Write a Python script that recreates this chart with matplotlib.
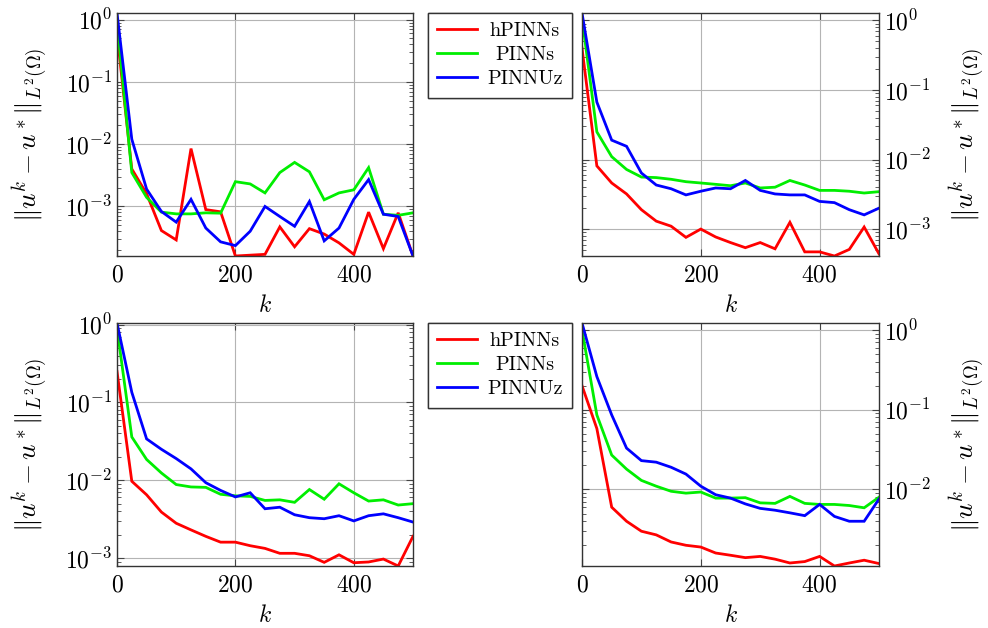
import numpy as np
import matplotlib
matplotlib.use("Agg")
import matplotlib.pyplot as plt
from matplotlib.ticker import LogLocator, FixedLocator, NullFormatter
from matplotlib.transforms import Affine2D

plt.rcParams['font.family'] = ['cmr10', 'DejaVu Serif']
plt.rcParams['mathtext.fontset'] = 'cm'
plt.rcParams['axes.formatter.use_mathtext'] = True

k = np.arange(0, 501, 25)

# Top-left panel
tl_h = [0.6, 4.0e-3, 1.6e-3, 4.1e-4, 2.9e-4, 8.5e-3, 8.9e-4, 8.2e-4, 1.6e-4, 1.65e-4, 1.7e-4,
        4.7e-4, 2.25e-4, 4.4e-4, 3.6e-4, 2.6e-4, 1.7e-4, 8.1e-4, 2.1e-4, 7.9e-4, 1.6e-4]
tl_p = [0.9, 3.5e-3, 1.4e-3, 8.1e-4, 7.6e-4, 7.6e-4, 7.9e-4, 7.8e-4, 2.5e-3, 2.3e-3, 1.65e-3,
        3.5e-3, 5.1e-3, 3.6e-3, 1.28e-3, 1.65e-3, 1.85e-3, 4.2e-3, 7.5e-4, 7.2e-4, 7.9e-4]
tl_z = [1.28, 1.2e-2, 1.9e-3, 8.3e-4, 5.6e-4, 1.3e-3, 4.5e-4, 2.7e-4, 2.35e-4, 4.0e-4, 1.0e-3,
        6.9e-4, 4.8e-4, 1.2e-3, 2.8e-4, 4.5e-4, 1.3e-3, 2.7e-3, 7.5e-4, 6.9e-4, 1.6e-4]

# Top-right panel
tr_h = [0.40, 8.1e-3, 4.6e-3, 3.2e-3, 1.9e-3, 1.3e-3, 1.1e-3, 7.6e-4, 1.0e-3, 7.7e-4, 6.4e-4,
        5.4e-4, 6.4e-4, 5.2e-4, 1.25e-3, 4.7e-4, 4.7e-4, 4.1e-4, 5.1e-4, 1.07e-3, 4.4e-4]
tr_p = [1.1, 2.5e-2, 1.1e-2, 7.2e-3, 5.6e-3, 5.5e-3, 5.2e-3, 4.8e-3, 4.6e-3, 4.4e-3, 4.2e-3,
        4.6e-3, 3.9e-3, 4.0e-3, 5.0e-3, 4.3e-3, 3.6e-3, 3.6e-3, 3.5e-3, 3.3e-3, 3.45e-3]
tr_z = [1.28, 6.7e-2, 1.9e-2, 1.55e-2, 6.4e-3, 4.3e-3, 3.8e-3, 3.1e-3, 3.5e-3, 3.9e-3, 3.8e-3,
        5.0e-3, 3.6e-3, 3.2e-3, 3.1e-3, 3.1e-3, 2.5e-3, 2.4e-3, 1.9e-3, 1.6e-3, 2.0e-3]

# Bottom-left panel
bl_h = [0.25, 9.7e-3, 6.5e-3, 3.9e-3, 2.8e-3, 2.3e-3, 1.9e-3, 1.6e-3, 1.6e-3, 1.44e-3, 1.33e-3,
        1.15e-3, 1.15e-3, 1.07e-3, 8.8e-4, 1.1e-3, 8.7e-4, 8.9e-4, 9.7e-4, 7.9e-4, 1.9e-3]
bl_p = [0.9, 3.6e-2, 1.85e-2, 1.24e-2, 8.8e-3, 8.2e-3, 8.1e-3, 6.6e-3, 6.3e-3, 6.2e-3, 5.5e-3,
        5.6e-3, 5.2e-3, 7.6e-3, 5.7e-3, 9.0e-3, 6.9e-3, 5.4e-3, 5.6e-3, 4.8e-3, 5.0e-3]
bl_z = [1.05, 0.135, 3.4e-2, 2.5e-2, 1.9e-2, 1.4e-2, 9.3e-3, 7.4e-3, 6.1e-3, 6.9e-3, 4.3e-3,
        4.5e-3, 3.6e-3, 3.3e-3, 3.2e-3, 3.5e-3, 3.0e-3, 3.5e-3, 3.7e-3, 3.3e-3, 2.9e-3]

# Bottom-right panel
br_h = [0.20, 5.8e-2, 6.0e-3, 4.0e-3, 3.0e-3, 2.7e-3, 2.2e-3, 2.0e-3, 1.9e-3, 1.6e-3, 1.5e-3,
        1.4e-3, 1.45e-3, 1.34e-3, 1.2e-3, 1.25e-3, 1.45e-3, 1.1e-3, 1.2e-3, 1.3e-3, 1.18e-3]
br_p = [1.0, 8.6e-2, 2.7e-2, 1.8e-2, 1.3e-2, 1.1e-2, 9.5e-3, 9.0e-3, 9.3e-3, 7.8e-3, 7.8e-3,
        7.9e-3, 6.8e-3, 6.7e-3, 8.2e-3, 6.7e-3, 6.5e-3, 6.5e-3, 6.3e-3, 5.9e-3, 8.0e-3]
br_z = [1.22, 0.26, 8.6e-2, 3.3e-2, 2.3e-2, 2.2e-2, 1.9e-2, 1.56e-2, 1.1e-2, 8.6e-3, 7.8e-3,
        6.6e-3, 5.8e-3, 5.5e-3, 5.1e-3, 4.7e-3, 6.5e-3, 4.6e-3, 4.0e-3, 4.0e-3, 7.6e-3]

labels = ['hPINNs', 'PINNs', 'PINNUz']
colors = ['#ff0000', '#00ee00', '#0000ff']
xticks = [0, 200, 400]
ylabel = r'$\|u^k - u^*\|_{L^2(\Omega)}$'

W, H = 988, 628
fig = plt.figure(figsize=(W / 100, H / 100), dpi=100)

def rect(x0, y0, x1, y1):
    return [x0 / W, 1 - y1 / H, (x1 - x0) / W, (y1 - y0) / H]

panels = [
    (rect(117, 13, 413, 256), (tl_h, tl_p, tl_z), 'left'),
    (rect(582, 13, 879, 256), (tr_h, tr_p, tr_z), 'right'),
    (rect(117, 323, 413, 566), (bl_h, bl_p, bl_z), 'left'),
    (rect(582, 323, 879, 566), (br_h, br_p, br_z), 'right'),
]

FS = 17
YFS = 19.5
handles = None
for r, series, side in panels:
    ax = fig.add_axes(r)
    hs = []
    for s, c, lab in zip(series, colors, labels):
        h, = ax.plot(k, s, color=c, lw=2.0, label=lab, solid_joinstyle='miter')
        hs.append(h)
    handles = hs
    ax.set_yscale('log')
    allv = np.concatenate([np.asarray(s) for s in series])
    ax.set_ylim(allv.min(), allv.max())
    ax.set_xlim(0, 500)
    ax.xaxis.set_major_locator(FixedLocator(xticks))
    ax.yaxis.set_major_locator(LogLocator(base=10, numticks=20))
    ax.yaxis.set_minor_locator(LogLocator(base=10, subs=np.arange(2, 10), numticks=20))
    ax.yaxis.set_minor_formatter(NullFormatter())
    ax.grid(True, which='major', color='#b4b4b4', lw=0.8)
    ax.set_axisbelow(True)
    ax.tick_params(which='both', direction='in', top=True, bottom=True, left=True, right=True,
                   labelsize=FS, color='#444444')
    ax.tick_params(which='major', length=5, width=0.8)
    ax.tick_params(which='minor', length=3, width=0.6)
    ax.tick_params(axis='x', pad=6)
    for sp in ax.spines.values():
        sp.set_color('#333333')
        sp.set_linewidth(1.0)
    ax.set_xlabel(r'$k$', fontsize=FS, labelpad=6)
    if side == 'right':
        ax.tick_params(labelleft=False, labelright=True)
        ax.yaxis.set_label_position('right')
        ax.set_ylabel(ylabel, fontsize=YFS, labelpad=12)
    else:
        ax.set_ylabel(ylabel, fontsize=YFS, labelpad=11)

LFS = 14.5
em = LFS * 100 / 72
shifts = [0.12 * em, 0.40 * em, 0.0]
for ytop in (13, 323):
    leg = fig.legend(handles, labels, loc='upper left',
                     bbox_to_anchor=(428 / W, 1 - ytop / H), borderaxespad=0,
                     fontsize=LFS, fancybox=False, framealpha=1, edgecolor='#333333',
                     handlelength=2.0, handletextpad=0.5, borderpad=0.45, labelspacing=0.3)
    leg.get_frame().set_linewidth(1.0)
    for t, dx in zip(leg.get_texts(), shifts):
        t.set_transform(t.get_transform() + Affine2D().translate(dx, 0))
    fig.add_artist(leg)

fig.savefig('out.png', dpi=100)
